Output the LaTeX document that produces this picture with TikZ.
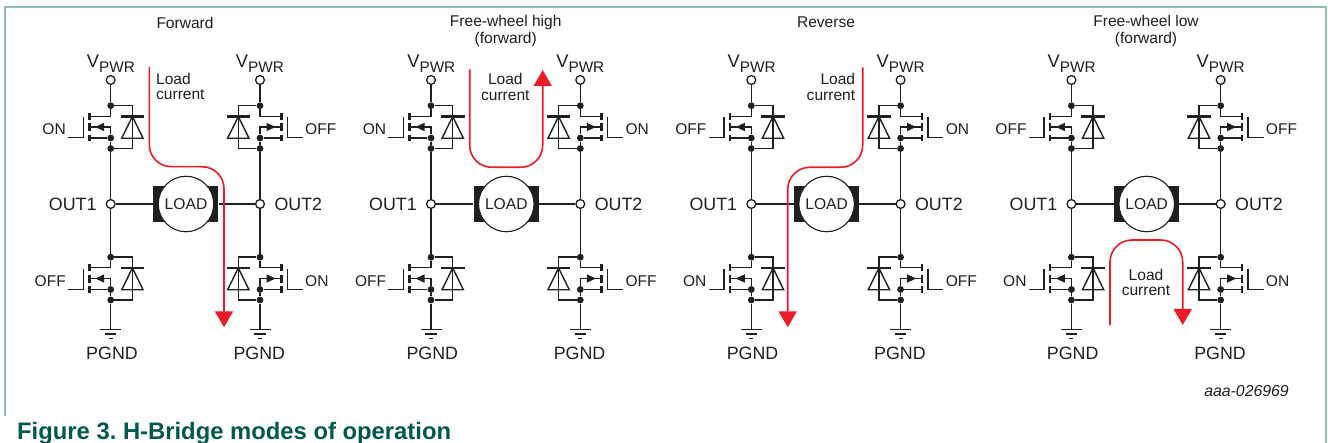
\documentclass[tikz,border=0pt]{standalone}
\usepackage{fontspec}
\setmainfont{Liberation Sans}
\usetikzlibrary{arrows.meta}
\definecolor{ink}{HTML}{1F1F1F}
\definecolor{flow}{HTML}{ED1C24}
\definecolor{framec}{HTML}{8FBDB5}
\definecolor{capc}{HTML}{00594C}
\newcommand{\fsz}[1]{\fontsize{#1}{#1}\selectfont}
\frenchspacing
\tikzset{
  x=1bp,y=-1bp,
  wire/.style={draw=ink,line width=1.4bp},
  thickbar/.style={draw=ink,line width=2.6bp},
  dotn/.style={circle,fill=ink,inner sep=0pt,minimum size=6.8bp},
  term/.style={circle,draw=ink,fill=white,line width=1.3bp,inner sep=0pt,minimum size=8.8bp},
  lab/.style={inner sep=0pt,text=ink,font=\fsz{15.6}},
  big/.style={inner sep=0pt,text=ink,font=\fsz{17.9}},
  current/.style={draw=flow,line width=1.6bp,rounded corners=22bp,-{Triangle[length=16bp,width=18bp]},fill=none},
  currentline/.style={align=center,inner sep=0pt,text=ink,font=\fsz{15.6},text height=11.5bp,text depth=3bp},
}
% name, leg x, y shift, side
\newcommand{\halfbridge}[4]{%
  \begin{scope}[shift={(#2,#3)},xscale=#4]
    \node[dotn] (#1d) at (0,105.7) {};
    \node[dotn] (#1s) at (0,138) {};
    \node[dotn] (#1b) at (0,148.5) {};
    \draw[wire] (#1d) -- (0,116.3) -- (-21.4,116.3);
    \draw[wire] (-21.4,127) -- (0,127) -- (#1s);
    \draw[wire] (-21.4,138) -- (#1s) -- (#1b);
    \fill[ink] (-15.5,127) -- (-6.5,122.8) -- (-6.5,131.2) -- cycle;
    \draw[thickbar] (-21.4,112.6) -- (-21.4,119.6);
    \draw[thickbar] (-21.4,123.3) -- (-21.4,131.3);
    \draw[thickbar] (-21.4,134.8) -- (-21.4,141.2);
    \draw[wire] (-27.3,117.3) -- (-27.3,137.8) -- (-42.8,137.8);
    \draw[wire] (#1d) -- (21.7,105.7) -- (21.7,148.5) -- (#1b);
    \draw[wire,line join=miter] (21.7,116.5) -- (11,138.3) -- (32.4,138.3) -- cycle;
    \draw[thickbar] (9.9,116.5) -- (33.5,116.5);
  \end{scope}}
\newcommand{\groundsym}[2]{%
  \coordinate (#1) at (#2,329.3);
  \draw[wire] (#2-10.5,329.3) -- (#2+10.5,329.3);
  \draw[wire] (#2-5.6,334) -- (#2+5.6,334);
  \draw[wire] (#2-2,338.3) -- (#2+2,338.3);}
\begin{document}
\begin{tikzpicture}
\useasboundingbox (0,0) rectangle (1328,443);
\fill[white] (0,0) rectangle (1328,443);
\draw[framec,line width=1.2bp] (5,416) -- (5,7) -- (1326,7) -- (1326,443);
\foreach \p/\ox/\ul/\ur/\ll/\lr in {a/0/ON/OFF/OFF/ON,b/320.3/ON/ON/OFF/OFF,c/640.6/OFF/ON/ON/OFF,e/960.7/OFF/OFF/ON/ON}{
  \begin{scope}[shift={(\ox,0)}]
    \halfbridge{\p ul}{110.7}{0}{1}
    \halfbridge{\p ur}{260}{0}{-1}
    \halfbridge{\p ll}{110.7}{151.5}{1}
    \halfbridge{\p lr}{260}{151.5}{-1}
    \node[term] (\p vl) at (110.7,80) {};
    \node[term] (\p vr) at (260,80) {};
    \node[term] (\p ol) at (110.7,204) {};
    \node[term] (\p or) at (260,204) {};
    \groundsym{\p gl}{110.7}
    \groundsym{\p gr}{260}
    \draw[wire] (\p vl) -- (\p uld);
    \draw[wire] (\p vr) -- (\p urd);
    \draw[wire] (\p ulb) -- (\p ol) -- (\p lld);
    \draw[wire] (\p urb) -- (\p or) -- (\p lrd);
    \draw[wire] (\p llb) -- (\p gl);
    \draw[wire] (\p lrb) -- (\p gr);
    \node[fill=ink,minimum width=65bp,minimum height=35.6bp,inner sep=0pt] (\p lr0) at (185.8,204) {};
    \node[circle,draw=ink,fill=white,line width=1.1bp,minimum size=55.5bp,inner sep=0pt,text=ink,font=\fsz{15.7}] (\p load) at (186,204) {LOAD};
    \draw[wire] (\p ol) -- (\p lr0);
    \draw[wire] (\p lr0) -- (\p or);
    \node[big,anchor=base east] (\p to1) at (96.7,210.3) {OUT1};
    \node[big,anchor=base west] (\p to2) at (274.3,210.3) {OUT2};
    \node[big] (\p pl) at (112,353.3) {PGND};
    \node[big] (\p pr) at (259.3,353.3) {PGND};
    \node[inner sep=0pt,anchor=base,text=ink] (\p sl) at (111,68) {\fsz{18.4}V\raisebox{-4.7pt}{\fsz{15.4}PWR}};
    \node[inner sep=0pt,anchor=base,text=ink] (\p sr) at (260,68) {\fsz{18.4}V\raisebox{-4.7pt}{\fsz{15.4}PWR}};
    \node[lab,anchor=base east] (\p sul) at (66,135) {\ul};
    \node[lab,anchor=base west] (\p sur) at (305,135) {\ur};
    \node[lab,anchor=base east] (\p sll) at (66,287) {\ll};
    \node[lab,anchor=base west] (\p slr) at (305,287) {\lr};
  \end{scope}
}
% titles
\node[lab] (t1) at (185,22.7) {Forward};
\node[lab,align=center,font=\fsz{15.6}] (t2) at (505.7,31) {\fsz{15.6}Free-wheel high\\[0.5bp](forward)};
\node[lab] (t3) at (826,22.7) {Reverse};
\node[lab,align=center] (t4) at (1146,31) {\fsz{15.6}Free-wheel low\\[0.5bp](forward)};
% load current
\node[currentline,align=left,anchor=west] (l1) at (156,95.5) {Load\\current};
\node[currentline] (l2) at (505.3,96) {Load\\current};
\node[currentline,align=right,anchor=east] (l3) at (855.3,96) {Load\\current};
\node[currentline] (l4) at (1146,291.7) {Load\\current};
% red paths
\coordinate (r1s) at (149.3,67); \coordinate (r1e) at (224,327.3);
\coordinate (r2s) at (469.7,69.3); \coordinate (r2e) at (542.7,70);
\coordinate (r3s) at (862.7,67.3); \coordinate (r3e) at (787.7,327.3);
\coordinate (r4s) at (1110,325); \coordinate (r4e) at (1182.7,325);
\draw[current] (r1s) -- (r1s |- 0,166.7) -- (r1e |- 0,166.7) -- (r1e);
\draw[current] (r2s) -- (r2s |- 0,167.3) -- (r2e |- 0,167.3) -- (r2e);
\draw[current] (r3s) -- (r3s |- 0,167.3) -- (r3e |- 0,167.3) -- (r3e);
\draw[current] (r4s) -- (r4s |- 0,240) -- (r4e |- 0,240) -- (r4e);
\node[lab,anchor=base east,font=\fsz{15.9}\itshape] (ref) at (1289,396.5) {aaa-026969};
\node[inner sep=0pt,anchor=base west,text=capc,font=\fsz{23.9}\bfseries] (cap) at (17,439) {Figure 3. H-Bridge modes of operation};
\end{tikzpicture}
\end{document}
